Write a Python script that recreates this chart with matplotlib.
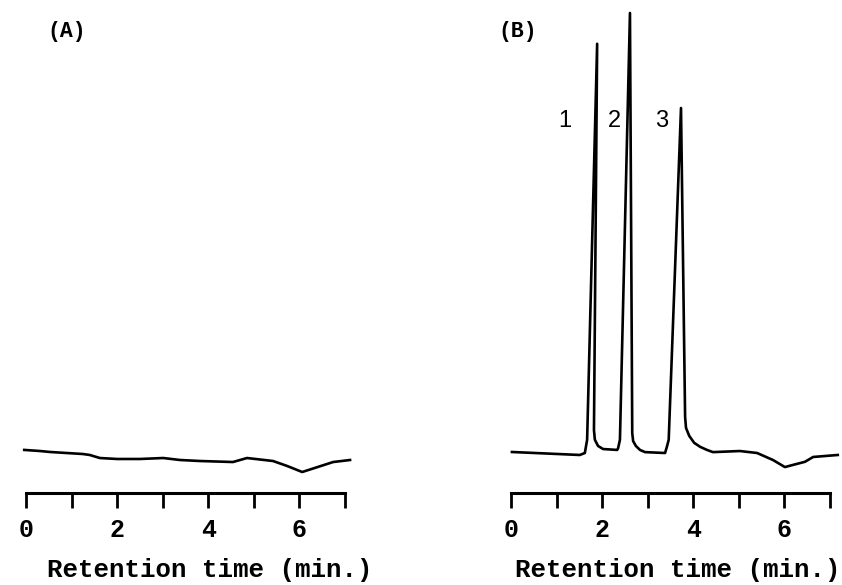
import matplotlib
matplotlib.use("Agg")
import matplotlib.pyplot as plt

# Chromatogram (A): blank
time_a = [-0.04, 0.31, 0.53, 1.25, 1.40, 1.62, 2.00, 2.50, 3.01, 3.38, 3.82,
          4.54, 4.85, 5.42, 5.73, 6.06, 6.74, 7.11]
signal_a = [0.7, 0.45, 0.23, -0.23, -0.45, -1.14, -1.36, -1.36, -1.14, -1.59, -1.82,
            -2.05, -1.14, -1.82, -2.95, -4.32, -2.05, -1.59]

# Chromatogram (B): standard mixture, three peaks
time_b = [0.02, 1.51, 1.62, 1.67, 1.89, 1.82, 1.84, 1.91, 2.02, 2.33,
          2.35, 2.39, 2.61, 2.66, 2.68, 2.74, 2.83, 2.94, 3.38,
          3.42, 3.46, 3.73, 3.82, 3.84, 3.91, 4.02, 4.15, 4.30,
          4.43, 5.02, 5.40, 5.75, 6.01, 6.19, 6.45, 6.63, 7.17]
signal_b = [0.23, -0.45, 0.0, 3.0, 93.0, 5.2, 3.0, 1.6, 0.9, 0.7,
            1.1, 3.0, 100.0, 4.5, 2.7, 1.6, 0.7, 0.2, 0.0,
            1.4, 3.0, 78.4, 8.2, 5.7, 3.9, 2.3, 1.4, 0.7,
            0.2, 0.45, 0.0, -1.6, -3.2, -2.7, -2.0, -0.9, -0.45]

peak_labels = ["1", "2", "3"]
peak_label_x = [1.18, 2.26, 3.30]
peak_label_y = [75.5, 75.5, 75.5]

ticks = [0, 1, 2, 3, 4, 5, 6, 7]
tick_labels = ["0", "", "2", "", "4", "", "6", ""]

W, H = 842, 585
fig = plt.figure(figsize=(W / 100, H / 100), dpi=100)

mono = "Liberation Mono"


def make_axes(left_px, xlabel_x):
    ax = fig.add_axes([left_px / W, (H - 493) / H, 341.8 / W, 493 / H])
    ax.set_xlim(-0.2, 7.3)
    ax.set_ylim(-9.09, 102.95)
    for s in ["top", "left", "right"]:
        ax.spines[s].set_visible(False)
    ax.spines["bottom"].set_bounds(0, 7)
    ax.spines["bottom"].set_linewidth(2.2)
    ax.set_yticks([])
    ax.set_xticks(ticks)
    ax.set_xticklabels(tick_labels, fontfamily=mono, fontweight="bold", fontsize=18)
    ax.tick_params(axis="x", direction="out", length=11, width=2.0, pad=7)
    ax.set_xlabel("Retention time (min.)", fontfamily=mono, fontweight="bold",
                  fontsize=18.5)
    ax.xaxis.label.set_va("center")
    ax.xaxis.set_label_coords(xlabel_x, -0.156)
    ax.patch.set_visible(False)
    return ax


ax_a = make_axes(16.9, 0.565)
ax_a.plot(time_a, signal_a, color="black", lw=1.9, solid_joinstyle="round")

ax_b = make_axes(501.9, 0.514)
ax_b.plot(time_b, signal_b, color="black", lw=1.9, solid_joinstyle="round")
for lab, x, y in zip(peak_labels, peak_label_x, peak_label_y):
    ax_b.text(x, y, lab, fontfamily="Liberation Sans", fontsize=17,
              ha="center", va="center")

fig.text(47 / W, 1 - 32 / H, "(A)", fontfamily=mono, fontweight="bold",
         fontsize=15.5, va="center", ha="left")
fig.text(498 / W, 1 - 32 / H, "(B)", fontfamily=mono, fontweight="bold",
         fontsize=15.5, va="center", ha="left")

fig.savefig("out.png", dpi=100)
